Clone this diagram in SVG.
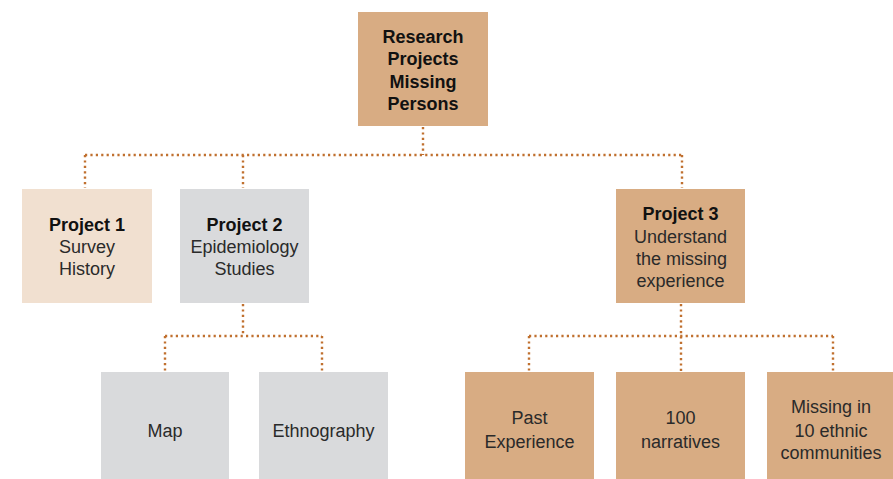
<svg xmlns="http://www.w3.org/2000/svg" width="893" height="479" viewBox="0 0 893 479">
  <style>
    .box-dark { fill: #D8AC83; }
    .box-light { fill: #F1E0D0; }
    .box-grey { fill: #D9DADC; }
    .link { fill: none; stroke: #C0702F; stroke-width: 2.4; stroke-dasharray: 2.2 3.2; }
    text { font-family: "Liberation Sans", Arial, sans-serif; font-size: 18px; text-anchor: middle; fill: #2a2a2a; }
    .title { font-weight: bold; fill: #111; }
  </style>
  <rect width="893" height="479" fill="#ffffff"/>

  <!-- connectors -->
  <g id="connectors">
    <path class="link" d="M423 127 V155"/>
    <path class="link" d="M85 155 H682"/>
    <path class="link" d="M85 155 V188"/>
    <path class="link" d="M243 155 V188"/>
    <path class="link" d="M682 155 V188"/>
    <path class="link" d="M243 304 V336"/>
    <path class="link" d="M165 336 H322"/>
    <path class="link" d="M165 336 V371"/>
    <path class="link" d="M322 336 V371"/>
    <path class="link" d="M681 304 V371"/>
    <path class="link" d="M529 336 H833"/>
    <path class="link" d="M529 336 V371"/>
    <path class="link" d="M833 336 V371"/>
  </g>

  <g id="root">
    <rect class="box-dark" x="358" y="12" width="130" height="114"/>
    <text class="title" x="423" y="43">Research</text>
    <text class="title" x="423" y="65">Projects</text>
    <text class="title" x="423" y="88">Missing</text>
    <text class="title" x="423" y="110">Persons</text>
  </g>

  <g id="project1">
    <rect class="box-light" x="22" y="189" width="130" height="114"/>
    <text class="title" x="87" y="231">Project 1</text>
    <text x="87" y="253">Survey</text>
    <text x="87" y="275">History</text>
  </g>

  <g id="project2">
    <rect class="box-grey" x="180" y="189" width="129" height="114"/>
    <text class="title" x="244.5" y="231">Project 2</text>
    <text x="244.5" y="253">Epidemiology</text>
    <text x="244.5" y="275">Studies</text>
  </g>

  <g id="project3">
    <rect class="box-dark" x="616" y="189" width="129" height="114"/>
    <text class="title" x="680.5" y="220">Project 3</text>
    <text x="680.5" y="243">Understand</text>
    <text x="681.5" y="265">the missing</text>
    <text x="680.5" y="287">experience</text>
  </g>

  <g id="map">
    <rect class="box-grey" x="101" y="372" width="128" height="107"/>
    <text x="165" y="437">Map</text>
  </g>

  <g id="ethnography">
    <rect class="box-grey" x="259" y="372" width="129" height="107"/>
    <text x="323.5" y="437">Ethnography</text>
  </g>

  <g id="past-experience">
    <rect class="box-dark" x="465" y="372" width="129" height="107"/>
    <text x="529.5" y="424">Past</text>
    <text x="529.5" y="448">Experience</text>
  </g>

  <g id="narratives">
    <rect class="box-dark" x="616" y="372" width="129" height="107"/>
    <text x="680.5" y="424">100</text>
    <text x="680.5" y="448">narratives</text>
  </g>

  <g id="ethnic-communities">
    <rect class="box-dark" x="767" y="372" width="126" height="107"/>
    <text x="831" y="413">Missing in</text>
    <text x="831" y="437">10 ethnic</text>
    <text x="831" y="459">communities</text>
  </g>
</svg>
